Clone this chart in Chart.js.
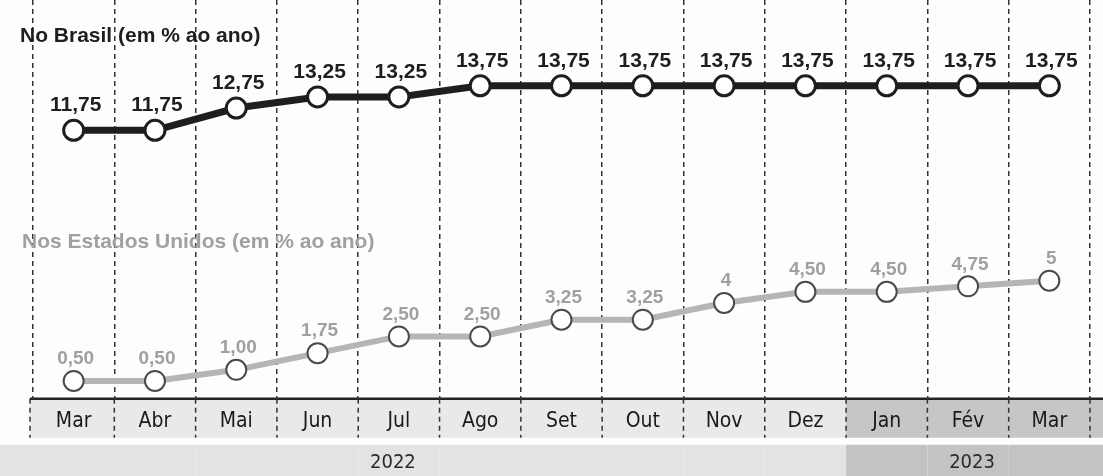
<!DOCTYPE html>
<html>
<head>
<meta charset="utf-8">
<script src="https://cdn.jsdelivr.net/npm/chart.js@4"></script>
<style>
  html, body { margin: 0; padding: 0; background: #fdfdfd; }
  #wrap { width: 1103px; height: 476px; position: relative; }
</style>
</head>
<body>
<div id="wrap"><canvas id="juros"></canvas></div>
<script>
const months = ['Mar', 'Abr', 'Mai', 'Jun', 'Jul', 'Ago', 'Set', 'Out', 'Nov', 'Dez', 'Jan', 'Fév', 'Mar'];
const monthYear = [2022, 2022, 2022, 2022, 2022, 2022, 2022, 2022, 2022, 2022, 2023, 2023, 2023];
const yearTicks = ['', '', '', '', '2022', '', '', '', '', '', '', '2023', ''];

const brasil = [11.75, 11.75, 12.75, 13.25, 13.25, 13.75, 13.75, 13.75, 13.75, 13.75, 13.75, 13.75, 13.75];
const brasilLabels = ['11,75', '11,75', '12,75', '13,25', '13,25', '13,75', '13,75', '13,75', '13,75', '13,75', '13,75', '13,75', '13,75'];
const eua = [0.5, 0.5, 1.0, 1.75, 2.5, 2.5, 3.25, 3.25, 4.0, 4.5, 4.5, 4.75, 5.0];
const euaLabels = ['0,50', '0,50', '1,00', '1,75', '2,50', '2,50', '3,25', '3,25', '4', '4,50', '4,50', '4,75', '5'];

const seriesTitles = ['No Brasil (em % ao ano)', 'Nos Estados Unidos (em % ao ano)'];

const DARK = '#1e1e1e';
const GREY_LINE = '#b5b5b5';
const GREY_TEXT = '#a0a0a0';
const NARROW = '"DejaVu Sans Condensed", "Liberation Sans Narrow", sans-serif';

// band under the plot: month row + year row, 2023 shaded darker
const bandPlugin = {
  id: 'band',
  beforeDraw(chart) {
    const { ctx, chartArea: a } = chart;
    const x = chart.scales.x;
    const w = x.getPixelForValue(1) - x.getPixelForValue(0);
    const rowH = 39;
    const yearTop = a.bottom + 46;
    ctx.save();
    monthYear.forEach((yr, i) => {
      const cx = x.getPixelForValue(i);
      const last = i === monthYear.length - 1;
      const l1 = cx - w / 2 - (i === 0 ? 3 : 0);
      const l2 = i === 0 ? 0 : cx - w / 2;
      const r = last ? chart.width : cx + w / 2;
      ctx.fillStyle = yr === 2023 ? '#c6c6c6' : '#e9e9e9';
      ctx.fillRect(l1, a.bottom, r - l1, rowH);
      ctx.fillStyle = yr === 2023 ? '#c3c3c3' : '#e3e3e3';
      ctx.fillRect(l2, yearTop, r - l2, chart.height - yearTop);
    });
    ctx.strokeStyle = '#333';
    ctx.lineWidth = 1.5;
    ctx.setLineDash([5, 4]);
    for (let i = 0; i <= monthYear.length; i++) {
      let bx = x.getPixelForValue(i) - w / 2;
      if (i === 0) bx -= 3;
      ctx.beginPath();
      ctx.moveTo(bx, a.bottom);
      ctx.lineTo(bx, a.bottom + rowH);
      ctx.stroke();
    }
    ctx.setLineDash([]);
    ctx.strokeStyle = '#222';
    ctx.lineWidth = 2.5;
    ctx.beginPath();
    ctx.moveTo(x.getPixelForValue(0) - w / 2 - 3, a.bottom);
    ctx.lineTo(chart.width, a.bottom);
    ctx.stroke();

    // year labels
    ctx.fillStyle = '#2a2a2a';
    ctx.font = '20px ' + NARROW;
    ctx.textAlign = 'center';
    ctx.textBaseline = 'middle';
    yearTicks.forEach((t, i) => {
      if (t) ctx.fillText(t, x.getPixelForValue(i) + (i > 9 ? 4 : -6), yearTop + 18);
    });
    ctx.restore();
  }
};

const valueLabels = {
  id: 'valueLabels',
  afterDatasetsDraw(chart) {
    const { ctx } = chart;
    const sets = [
      { labels: brasilLabels, color: DARK, font: 'bold 21px "Liberation Sans"', dy: 25 },
      { labels: euaLabels, color: GREY_TEXT, font: 'bold 19px "Liberation Sans"', dy: 22 }
    ];
    ctx.save();
    ctx.textAlign = 'center';
    ctx.textBaseline = 'middle';
    sets.forEach((s, di) => {
      const meta = chart.getDatasetMeta(di);
      ctx.fillStyle = s.color;
      ctx.font = s.font;
      meta.data.forEach((pt, i) => {
        ctx.fillText(s.labels[i], pt.x + 2, pt.y - s.dy);
      });
    });
    // series titles
    ctx.textAlign = 'left';
    ctx.font = 'bold 21px "Liberation Sans"';
    ctx.fillStyle = DARK;
    ctx.fillText(seriesTitles[0], 20, 36);
    ctx.fillStyle = GREY_TEXT;
    ctx.fillText(seriesTitles[1], 22, 242);
    ctx.restore();
  }
};

new Chart(document.getElementById('juros'), {
  type: 'line',
  data: {
    labels: months,
    datasets: [
      {
        label: seriesTitles[0],
        data: brasil,
        borderColor: DARK,
        borderWidth: 7,
        pointRadius: 10,
        pointBorderWidth: 3,
        pointBorderColor: DARK,
        pointBackgroundColor: '#fff',
        tension: 0,
        clip: false
      },
      {
        label: seriesTitles[1],
        data: eua,
        borderColor: GREY_LINE,
        borderWidth: 6,
        pointRadius: 10,
        pointBorderWidth: 2,
        pointBorderColor: '#4a4a4a',
        pointBackgroundColor: '#fff',
        tension: 0,
        clip: false
      }
    ]
  },
  options: {
    responsive: true,
    maintainAspectRatio: false,
    animation: false,
    layout: { autoPadding: false, padding: { left: 33, right: 13, top: 0, bottom: 32 } },
    scales: {
      x: {
        offset: true,
        border: { display: false, dash: [5, 4] },
        grid: {
          offset: true,
          drawTicks: false,
          color: '#333',
          lineWidth: 1.5
        },
        ticks: {
          padding: 10,
          color: '#1a1a1a',
          font: { family: NARROW, size: 21 },
          maxRotation: 0,
          autoSkip: false
        }
      },
      y: {
        display: false,
        min: -0.3,
        max: 17.6
      }
    },
    plugins: {
      legend: { display: false },
      tooltip: { enabled: false }
    }
  },
  plugins: [bandPlugin, valueLabels]
});
</script>
</body>
</html>
